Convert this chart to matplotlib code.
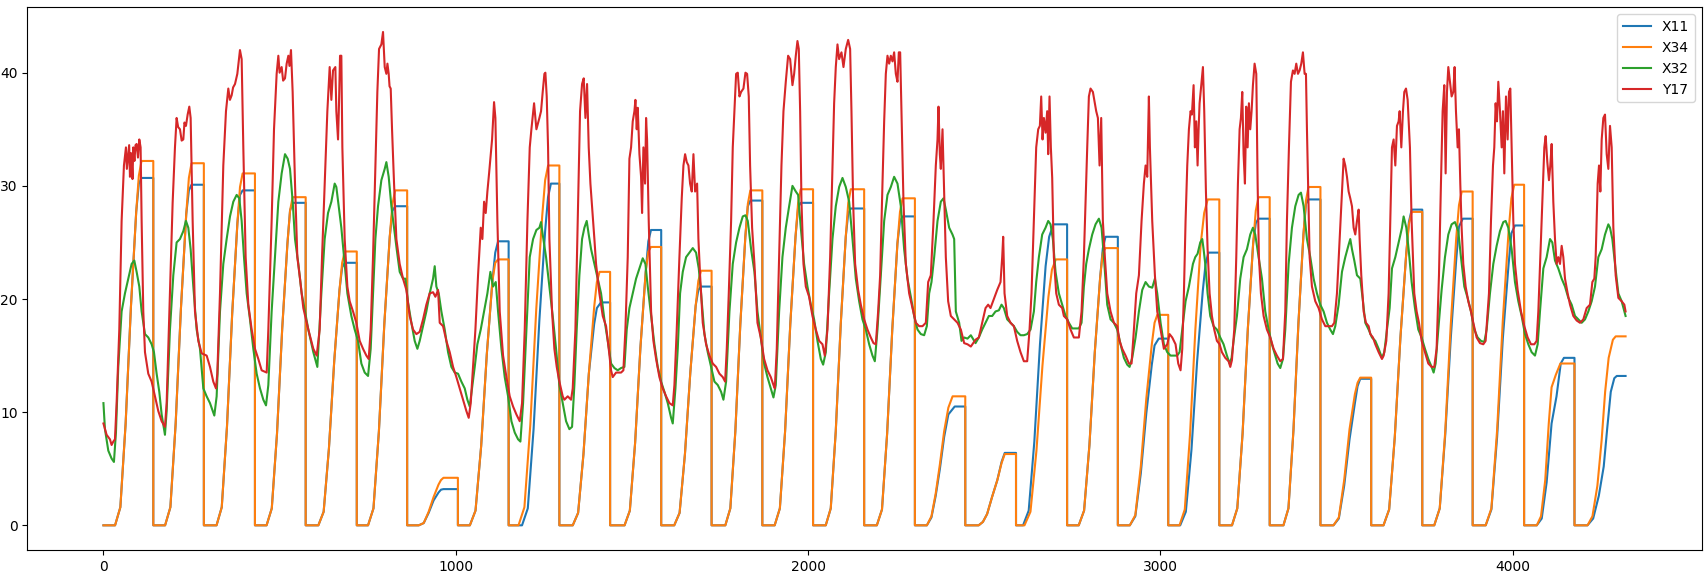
import matplotlib
matplotlib.use("Agg")
import matplotlib.pyplot as plt

# ---------------- data ----------------
x34_x = [0,
 33,48,63,78,93,100.5,108,141.5,141.5,
 175,190,205,220,235,242.5,250,285,285,
 321,335.8,350.6,365.4,380.2,387.6,395,430,430,
 463,477.8,492.6,507.4,522.2,529.6,537,574,574,
 610,625,640,655,670,677.5,685,719,719,
 751,766.4,781.8,797.2,812.6,820.3,828,862,862,
 895,909,923,937,951,958,965,1006,1006,
 1040,1056,1072,1088,1104,1112,1120,1150,1150,
 1178,1194.8,1211.6,1228.4,1245.2,1253.6,1262,1294,1294,
 1332,1347.2,1362.4,1377.6,1392.8,1400.4,1408,1438,1438,
 1479,1494,1509,1524,1539,1546.5,1554,1583,1583,
 1620,1635.2,1650.4,1665.6,1680.8,1688.4,1696,1726,1726,
 1765,1779.2,1793.4,1807.6,1821.8,1828.9,1836,1870,1870,
 1905,1919.8,1934.6,1949.4,1964.2,1971.6,1979,2014,2014,
 2050,2064.2,2078.4,2092.6,2106.8,2113.9,2121,2159,2159,
 2195,2209.6,2224.2,2238.8,2253.4,2260.7,2268,2303,2303,
 2337,2350,2362,2374,2386,2398,2410,2446,2446,
 2484,2496,2508,2522,2537,2549,2558,2590,2590,
 2614,2631,2648,2665,2682,2692,2703,2735,2735,
 2768,2783.2,2798.4,2813.6,2828.8,2836.4,2844,2879,2879,
 2913,2928.6,2944.2,2959.8,2975.4,2983.2,2991,3022,3022,
 3054,3069,3084,3099,3114,3124,3134,3167,3167,
 3203,3218,3233,3248,3263,3270.5,3278,3310,3310,
 3349,3363.2,3377.4,3391.6,3405.8,3412.9,3420,3454,3454,
 3491,3506.2,3521.4,3536.6,3551.8,3559.4,3567,3598,3598,
 3633,3649,3665,3681,3697,3705,3713,3743,3743,
 3777,3792.6,3808.2,3823.8,3839.4,3847.2,3855,3886,3886,
 3923,3939.2,3955.4,3971.6,3987.8,3995.9,4004,4032,4032,
 4068,4080,4092,4102,4110,4122,4135,4175,4175,
 4212,4226,4240,4252,4262,4272,4284,4292,4320]
x34_y = [0,
 0,1.6,9.0,19.3,27.7,30.9,32.2,32.2,0,
 0,1.6,9.0,19.2,27.5,30.7,32.0,32.0,0,
 0,1.6,8.7,18.7,26.7,29.9,31.1,31.1,0,
 0,1.5,8.1,17.4,24.9,27.8,29.0,29.0,0,
 0,1.2,6.8,14.5,20.8,23.2,24.2,24.2,0,
 0,1.5,8.3,17.8,25.5,28.4,29.6,29.6,0,
 0,0.2,1.2,2.5,3.6,4.0,4.2,4.2,0,
 0,1.3,7.0,15.1,21.6,23.2,23.5,23.5,0,
 0,1.6,8.9,19.1,27.3,30.5,31.8,31.8,0,
 0,1.1,6.3,13.4,19.3,21.5,22.4,22.4,0,
 0,1.3,7.3,15.7,22.4,24.2,24.6,24.6,0,
 0,1.1,6.3,13.5,19.4,21.6,22.5,22.5,0,
 0,1.5,8.3,17.8,25.5,28.4,29.6,29.6,0,
 0,1.5,8.3,17.8,25.5,28.5,29.7,29.7,0,
 0,1.5,8.3,17.8,25.5,28.5,29.7,29.7,0,
 0,1.4,8.1,17.3,24.9,27.7,28.9,28.9,0,
 0,0.8,2.8,5.4,8.3,10.4,11.4,11.4,0,
 0,0.3,1.0,2.5,4.0,5.5,6.3,6.3,0,
 0,1.2,6.6,14.1,20.2,22.6,23.5,23.5,0,
 0,1.3,7.1,15.3,21.9,24.1,24.5,24.5,0,
 0,0.9,5.2,11.2,16.0,17.9,18.6,18.6,0,
 0,1.4,8.1,17.3,24.8,27.6,28.8,28.8,0,
 0,1.5,8.1,17.4,24.9,27.8,29.0,29.0,0,
 0,1.5,8.4,17.9,25.7,28.7,29.9,29.9,0,
 0,0.7,4.0,8.5,11.6,12.6,13.05,13.05,0,
 0,1.4,7.8,16.6,23.8,26.6,27.7,27.7,0,
 0,1.5,8.3,17.7,25.4,28.3,29.5,29.5,0,
 0,1.5,8.4,18.1,25.9,28.9,30.1,30.1,0,
 0,0.8,4.0,9.0,12.2,13.3,14.3,14.3,0,
 0,0.8,3.5,7.5,11.8,14.8,16.4,16.7,16.7]

x11_x = [0,
 33,48,63,78,93,100.5,108,141.5,141.5,
 175,190,205,220,235,242.5,250,285,285,
 321,335.8,350.6,365.4,380.2,387.6,395,430,430,
 463,477.8,492.6,507.4,522.2,529.6,537,574,574,
 610,625,640,655,670,677.5,685,719,719,
 751,766.4,781.8,797.2,812.6,820.3,828,862,862,
 895,909,923,937,951,958,965,1006,1006,
 1040,1056,1072,1088,1104,1112,1120,1150,1150,
 1188,1204.4,1220.8,1237.2,1253.6,1261.8,1270,1294,1294,
 1332,1347.2,1362.4,1377.6,1392.8,1400.4,1412,1438,1438,
 1479,1494,1509,1524,1539,1546.5,1554,1583,1583,
 1620,1635.2,1650.4,1665.6,1680.8,1688.4,1696,1726,1726,
 1765,1779.2,1793.4,1807.6,1821.8,1828.9,1836,1870,1870,
 1905,1919.8,1934.6,1949.4,1964.2,1971.6,1979,2014,2014,
 2050,2064.2,2078.4,2092.6,2106.8,2113.9,2121,2159,2159,
 2195,2209.6,2224.2,2238.8,2253.4,2260.7,2268,2303,2303,
 2337,2350,2362,2374,2386,2398,2416,2446,2446,
 2484,2496,2508,2522,2537,2549,2558,2590,2590,
 2610,2626,2642,2658,2674,2684,2696,2735,2735,
 2768,2783.2,2798.4,2813.6,2828.8,2836.4,2844,2879,2879,
 2913,2928.6,2944.2,2959.8,2975.4,2983.2,2995,3022,3022,
 3056,3072,3088,3104,3120,3128,3136,3167,3167,
 3203,3218,3233,3248,3263,3270.5,3278,3310,3310,
 3349,3363.2,3377.4,3391.6,3405.8,3412.9,3420,3454,3454,
 3491,3506.2,3521.4,3536.6,3551.8,3559.4,3567,3598,3598,
 3633,3649,3665,3681,3697,3705,3713,3743,3743,
 3777,3792.6,3808.2,3823.8,3839.4,3847.2,3858,3886,3886,
 3923,3939.2,3955.4,3971.6,3987.8,3995.9,4006,4032,4032,
 4068,4082,4096,4110,4124,4136,4145,4175,4175,
 4212,4228,4244,4258,4268,4278,4288,4295,4320]
x11_y = [0,
 0,1.6,9.0,19.3,27.7,30.2,30.7,30.7,0,
 0,1.6,9.0,19.2,27.5,29.6,30.1,30.1,0,
 0,1.6,8.7,18.7,26.7,29.2,29.6,29.6,0,
 0,1.5,8.1,17.4,24.9,27.8,28.5,28.5,0,
 0,1.2,6.8,14.5,20.8,22.8,23.2,23.2,0,
 0,1.5,8.3,17.8,25.5,27.8,28.2,28.2,0,
 0,0.2,1.1,2.2,2.9,3.15,3.2,3.2,0,
 0,1.3,7.0,15.1,21.6,24.1,25.1,25.1,0,
 0,1.5,8.5,18.1,26.0,29.0,30.2,30.2,0,
 0,1.1,6.3,13.4,17.8,19.2,19.7,19.7,0,
 0,1.3,7.3,15.7,22.4,25.1,26.1,26.1,0,
 0,1.1,6.3,13.5,19.4,20.8,21.1,21.1,0,
 0,1.5,8.3,17.8,25.5,28.2,28.7,28.7,0,
 0,1.5,8.3,17.8,25.5,28.1,28.5,28.5,0,
 0,1.5,8.3,17.8,25.5,27.6,28.0,28.0,0,
 0,1.4,8.1,17.3,24.9,26.9,27.3,27.3,0,
 0,0.7,2.6,5.0,7.8,9.8,10.5,10.5,0,
 0,0.3,1.0,2.5,4.0,5.6,6.4,6.4,0,
 0,1.3,7.4,16.0,22.9,25.5,26.6,26.6,0,
 0,1.3,7.1,15.3,21.9,24.5,25.5,25.5,0,
 0,0.8,4.6,9.9,14.2,15.9,16.5,16.5,0,
 0,1.2,6.7,14.5,20.7,23.1,24.1,24.1,0,
 0,1.5,8.1,17.4,24.9,26.7,27.1,27.1,0,
 0,1.5,8.4,17.9,25.7,28.4,28.8,28.8,0,
 0,0.6,3.5,7.6,10.8,12.3,12.95,12.95,0,
 0,1.4,7.8,16.6,23.8,26.8,27.9,27.9,0,
 0,1.5,8.0,16.5,23.5,26.4,27.1,27.1,0,
 0,1.4,7.8,16.5,23.0,25.8,26.5,26.5,0,
 0,0.6,3.8,9.0,11.4,14.3,14.8,14.8,0,
 0,0.6,2.6,5.2,8.6,11.8,13.0,13.2,13.2]

x32_x = [0,4.3,13.8,23.2,29.8,35.5,42.1,51.6,61.1,70.5,80,87.6,94.2,101.8,108.4,117.9,127.3,136.8,
 143.4,151,158.5,165.2,174.6,179.4,188.8,198.3,207.7,217.2,226.7,234.2,240.9,247.5,255.1,264.5,274,
 283.5,292.9,302.4,314.7,321.3,330.8,340.2,349.7,359.2,368.6,378.1,385.6,392.3,398.9,406.5,415.9,
 425.4,434.9,444.3,453.8,461.4,468,477.4,486.9,496.4,505.8,515.3,522.9,529.5,537.1,543.7,553.2,
 562.6,572.1,581.5,595.7,607.1,
 618.5,627.9,637.4,646.9,656.3,661,667.7,675.2,682.8,692.3,703.6,713.1,722.6,732,741.5,751,758.5,
 765.1,771.8,779.3,788.8,798.3,803,809.6,817.2,824.8,832.3,840.8,850.3,856.9,864.5,874,883.4,891,
 897.6,907.1,916.5,926,935.5,940.2,944.9,951.6,959.1,968.6,978.1,987.5,997,1006.4,1015.9,1025.4,
 1032.9,1039.6,1046.2,1053.8,1061.3,1070.8,1080.3,1089.7,1098.2,1105.8,1113.4,1120,1129.5,1138.9,
 1148.4,1157.9,1167.3,1176.8,1183.4,1191,1200.4,1209.9,1219.4,1228.8,
 1237.3,1242,1246.7,1256.2,1265.7,1275.1,1284.6,1294,1303.5,1313,1322.4,1330,1336.6,1343.2,1350.8,
 1358.4,1365,1371.6,1377.3,1384,1393.4,1402.9,1412.3,1421.8,1431.3,1440.7,1450.2,1459.6,1469.1,
 1478.6,1485.2,1492.8,1502.2,1511.7,1521.2,1530.6,1538.2,1544.8,1554.3,1563.7,1573.2,1582.7,1592.1,
 1601.6,1611.1,1615.8,1623.4,1630,1636.6,1644.2,1653.6,1663.1,1672.6,1682,1689.6,1696.2,1705.7,
 1715.1,1724.6,1734.1,1743.5,1753,1759.6,1767.2,1776.7,1786.1,1795.6,1805.1,1814.5,1822.1,1828.7,
 1838.2,1847.6,
 1856.2,1865.6,1875.1,1884.6,1894,1901.6,1908.2,1917.7,1927.1,1936.6,1946.1,1955.5,1965,1971.6,
 1979.2,1988.6,1998.1,2007.6,2017,2026.5,2036,2042.6,2050.2,2059.6,2069.1,2078.5,2088,2097.5,
 2106.9,2116.4,2125.9,2135.3,2144.8,2154.2,2163.7,2173.2,2182.6,2189.3,2196.8,2206.3,2215.8,
 2225.2,2234.7,2244.1,2253.6,2263.1,2272.5,2282,2291.5,2300.9,2310.4,2319.9,2329.3,2336.9,2343.5,
 2350.1,2357.7,2367.2,2376.6,2384.2,2390.8,2400.3,2409.7,2414.5,2419.2,2428.7,2435.3,2442.9,
 2452.3,2461.8,
 2475.1,2484.5,2494,2503.5,2512.9,2522.4,2531.8,2541.3,2548.9,2555.5,2565,2574.4,2583.9,2593.3,
 2602.8,2612.3,2621.7,2631.2,2640.7,2647.3,2654.9,2664.3,2673.8,2681.4,2688,2694.6,2702.2,2711.6,
 2721.1,2730.6,2740,2749.5,2768.4,2776,2782.6,2789.2,2796.8,2806.3,2815.7,2825.2,2832.8,2839.4,
 2848.9,2858.3,2867.8,2877.2,2886.7,2896.2,2905.6,2912.3,2919.8,2929.3,2938.8,2948.2,2957.7,
 2967.1,2976.6,2984.2,2990.8,3000.3,3009.7,3019.2,3028.6,3047.5,3054.2,3061.8,3071.2,3080.7,
 3092.1,3098.7,3105.3,3112.9,3118.6,3122.4,3127.1,3133.7,3141.3,3150.7,3160.2,3169.7,3179.1,
 3188.6,3196.2,3201.8,3207.5,3217,3226.4,3235.9,3245.4,3254.8,3262.4,3269,3278.5,3288,3297.4,
 3306.9,3316.3,3325.8,3332.4,3340,3347.6,3354.2,3363.7,3373.1,3382.6,3392,3398.7,3406.2,3415.7,
 3425.2,3434.6,3444.1,3453.6,3463,3472.5,3481.9,3489.5,3496.1,3505.6,3515.1,3524.5,3534,3538.7,
 3543.5,3550.1,3557.7,3567.1,3574.7,3581.3,3590.8,3600.2,3609.7,3619.2,3628.6,3635.2,3642.8,
 3650.4,3657,3666.5,3675.9,3685.4,3690.1,3697.7,3704.3,
 3712.8,3722.2,3731.7,3741.2,3750.6,3760.1,3769.5,3775.2,3780.9,3788.5,3797.9,3807.4,3816.9,
 3826.3,3835.8,3845.2,3852.8,3862.3,3871.7,3881.2,3890.7,3900.1,3909.6,3919.1,3925.7,3935.1,
 3944.6,3954.1,3963.5,3973,3979.6,3987.2,3996.7,4006.1,4015.6,4025,4034.5,4044,4053.4,4062.9,
 4070.5,4077.1,4086.6,4096,4105.5,4112.1,4119.7,4129.1,4138.6,4148.1,4157.5,4167,4176.5,4185.9,
 4195.4,4204.9,4214.3,4223.8,4233.2,4242.7,4252.2,4261.6,4271.1,4275.8,4282.4,4290,4299.5,4308.9,
 4316.5,4320]
x32_y = [10.8,8.5,6.6,5.9,5.6,8.2,14.0,18.9,20.5,21.8,23.1,23.4,22.4,21.1,18.9,16.9,16.6,16.0,
 15.3,13.4,11.8,9.8,8.0,10.1,17.3,22.1,25.0,25.3,26.0,26.9,26.3,24.4,21.1,17.3,15.6,
 12.1,11.4,10.8,9.7,11.4,18.9,23.1,25.3,27.3,28.6,29.2,28.9,26.9,23.7,20.5,18.2,
 15.6,13.4,12.1,11.1,10.6,12.4,18.9,23.7,28.6,31.1,32.8,32.4,31.5,28.6,25.3,23.1,
 20.5,18.9,17.3,15.3,14.0,
 20.5,25.3,27.6,28.6,30.2,29.9,28.2,26.3,23.7,20.5,18.5,17.3,16.3,14.3,13.5,13.2,15.6,
 20.5,25.3,28.2,30.5,31.5,32.1,30.8,28.2,26.3,24.4,22.4,21.8,21.8,19.7,17.9,16.3,15.6,
 16.3,17.6,18.9,20.5,21.8,22.9,21.1,20.5,18.9,17.3,15.3,14.0,13.5,13.4,12.7,12.1,
 11.1,10.5,12.1,14.0,16.0,17.3,18.9,20.5,22.4,21.1,21.5,18.9,15.6,13.1,
 11.4,9.2,8.2,7.6,7.4,10.8,17.3,23.7,25.3,26.1,
 26.3,26.8,25.7,23.7,21.1,18.5,15.6,12.4,10.8,9.2,8.5,8.7,12.4,17.3,22.1,
 25.3,26.3,26.9,25.7,24.4,23.1,21.8,20.5,18.2,16.3,14.3,13.9,13.7,13.9,
 14.0,17.3,19.2,20.5,21.8,22.7,23.6,23.1,21.1,18.5,16.0,14.0,12.7,11.8,
 10.8,9.5,9.0,12.1,15.6,20.5,22.4,23.7,24.1,24.5,24.1,22.7,20.5,16.9,
 15.3,14.0,12.7,12.4,11.8,11.1,12.7,18.9,23.1,25.0,26.3,27.3,27.4,26.9,
 24.4,22.4,
 18.9,16.6,14.3,13.1,12.1,11.3,12.4,18.9,23.7,26.3,28.2,30.0,29.5,29.2,
 26.3,23.1,21.1,19.5,18.2,16.3,14.7,14.2,15.3,20.5,25.3,28.2,29.9,30.7,
 29.9,28.6,25.3,21.8,19.8,18.2,17.3,16.0,15.0,14.5,17.3,22.1,26.9,
 29.2,29.9,30.8,30.2,28.2,24.4,21.8,20.2,18.5,17.3,16.9,16.8,17.6,20.5,
 21.5,23.7,26.9,28.6,28.9,27.9,26.3,25.7,25.3,18.9,17.9,16.3,16.6,
 16.5,16.8,
 16.1,16.6,17.3,17.9,18.5,18.5,18.9,19.0,19.5,19.2,18.2,17.9,17.6,17.1,
 16.8,16.8,16.9,17.3,18.9,21.5,23.7,25.7,26.3,26.9,26.6,25.3,22.4,20.5,
 19.5,18.5,17.9,17.4,17.4,17.9,21.1,23.1,24.4,25.7,26.6,27.1,26.3,23.7,
 19.5,18.2,17.9,17.3,16.0,14.8,14.2,14.0,14.8,16.6,18.9,20.8,21.5,
 21.1,21.0,21.8,20.5,17.9,16.0,15.3,15.0,15.0,15.3,17.3,19.8,21.1,
 23.1,23.7,24.0,25.0,25.3,24.4,23.1,20.5,18.5,17.6,17.3,16.6,16.0,
 15.0,14.3,14.8,16.3,18.5,21.8,23.7,24.4,25.7,26.3,25.7,23.7,21.8,18.9,
 17.3,16.0,15.0,14.3,13.9,14.7,17.3,23.1,26.3,28.2,29.2,29.4,28.2,25.3,
 23.7,21.8,20.5,19.5,18.9,17.9,17.3,16.9,17.6,19.5,22.4,23.7,24.8,25.3,
 24.4,23.4,22.1,21.8,19.8,17.9,17.3,16.6,16.3,15.6,14.8,15.3,17.3,
 19.2,22.7,23.7,25.0,26.3,27.3,26.3,24.4,
 21.5,19.2,17.3,16.6,15.6,14.7,14.0,13.5,14.3,17.3,20.8,23.7,25.7,
 26.6,26.8,26.0,23.7,21.1,20.1,18.9,17.3,16.6,16.3,16.2,17.3,20.5,
 23.1,24.7,26.0,26.8,26.9,26.3,24.4,21.5,19.8,18.5,16.9,16.0,15.3,15.0,
 16.0,18.9,22.7,23.7,25.3,25.0,23.4,22.7,21.8,21.1,20.1,19.5,18.5,18.2,
 17.9,18.2,18.9,19.8,21.1,23.7,24.4,25.7,26.6,26.3,25.3,23.1,20.5,19.8,
 18.9,18.5]

y17_x = [0,9,18.5,23.2,28,32.7,37.4,45,51.6,58.2,63.9,66.5,70.5,73,75.3,78,80,82.5,84.7,88,91,94.2,98,
 101.8,105.5,108.4,113.1,117.9,127.3,136.8,146.2,155.7,165.2,174.6,179.4,188.8,196.4,203,207.7,
 212,217.2,222,226.7,230,234.2,239,243.7,247.5,253.2,259.8,269.3,278.7,293,302.4,311.8,319.4,
 323.2,330.8,340.2,347.8,354.4,359,363.9,368,373.4,380,387.5,392.3,397,403.6,411.2,420.7,430.1,
 439.6,449,463.3,468,477.4,484.1,491.6,496.4,500,505.8,510,515.3,520,524.8,528,532.3,537,543.7,
 550.3,557.9,567.3,581.5,595.7,605.2,
 613.7,620.4,627.9,635.5,642.1,646.9,651.6,658.2,661,665.8,668.6,671.5,675.2,678.1,684.7,692.3,
 698.9,708.4,717.8,727.3,736.8,746.2,752.8,758.5,765.1,771.8,777.4,782.2,788.8,793.5,798.3,803,
 806,809.6,812,815.3,819.1,824.8,831.4,840.8,850.3,859.8,869.2,878.7,888.2,897.6,907.1,916.5,926,
 935.5,942.1,949.7,954.4,963.9,973.3,982.8,992.3,1001.7,1011.2,1020.6,1030.1,1036.7,1042.4,1049,
 1055.7,1063.2,1070.8,1075.5,1080.3,1085,1089.7,1094.5,1099.2,1103,1108.6,1112.4,1118.1,1124.7,
 1134.2,1143.7,1153.1,1162.6,1172,1181.5,1188.1,1195.7,1203.3,1209.9,1214.6,1222.2,1228.8,
 1237.3,1242,1246.7,1251.5,1254.3,1258.1,1261.9,1265.7,1273.2,1279.8,1286.5,1294,1303.5,1308.2,
 1317.7,1327.2,1331.9,1339.5,1346.1,1352.7,1358.4,1363.1,1367.9,1372.6,1377.3,1382.1,1386.8,
 1393.4,1398.1,1407.6,1417.1,1426.5,1434.1,1440.7,1445.4,1454.9,1469.1,1475.7,1481.4,1488,1492.8,
 1497.5,1502.2,1507,1509.8,1513.6,1516.4,1521.2,1525.9,1528.7,1532.5,1537.2,1540.1,1542.9,1547.6,
 1554.3,1560.9,1568.5,1577.9,1587.4,1596.9,1606.3,1615.8,1620.5,1627.1,1634.7,1641.3,1646.1,
 1650.8,1655.5,1660.3,1665,1669.7,1674.5,1679.2,1684.9,1688.6,1693.4,1700.9,1710.4,1719.9,1729.3,
 1738.8,1748.3,1757.7,1764.4,1769.1,1774.8,1781.4,1786.1,1790.9,1795.6,1800.3,1805.1,1809.8,
 1816.4,1822.1,1826.8,1831.5,1835.3,1841,1847.6,
 1856.2,1865.6,1875.1,1884.6,1894,1901.6,1905.4,1911,1917.7,1924.3,1930,1936.6,1943.2,1948.9,
 1955.5,1960.3,1965,1969.7,1973.5,1977.3,1981.1,1986.8,1993.4,2002.8,2012.3,2021.8,2031.2,2040.7,
 2047.3,2054.9,2062.5,2069.1,2073.8,2078.5,2083.3,2088,2094.6,2100.3,2106.9,2113.6,2119.2,2123,
 2127.7,2133.4,2141.9,2149.5,2159,2168.4,2177.9,2185.5,2192.1,2198.7,2204.4,2211,2215.8,2220.5,
 2225.2,2230,2234.7,2239.4,2244.1,2248.9,2253.6,2257.4,2261.2,2265,2270.6,2277.3,2286.7,2296.2,
 2305.7,2315.1,2324.6,2334.1,2340.7,2348.2,2355.8,2362.4,2367.2,2370,2373.8,2376.6,2381.4,2386.1,
 2390.8,2397.4,2405,2414.5,2423.9,2433.4,2442.9,2452.3,2461.8,
 2475.1,2484.5,2494,2503.5,2511,2517.6,2527.1,2536.6,2546,2550.8,2553.6,2557.4,2565,2574.4,
 2583.9,2593.3,2602.8,2612.3,2621.7,2628.4,2634,2640.7,2647.3,2653,2657.7,2661.5,2665.3,2669.1,
 2673.8,2678.5,2681.4,2685.1,2688.9,2692.7,2697.4,2704.1,2711.6,2721.1,2725.8,2735.3,2744.8,
 2754.2,2768.4,2776,2782.6,2787.3,2792.1,2796.8,2801.5,2808.2,2813.8,2817.6,2822.4,2827.1,2831.8,
 2836.5,2842.2,2848.9,2858.3,2867.8,2877.2,2883.9,2891.4,2900.9,2910.4,2917.9,2924.6,2931.2,
 2938.8,2946.3,2952.9,2957.7,2962.4,2967.1,2970,2976.6,2984.2,2990.8,3000.3,3009.7,3019.2,3025.8,
 3033.4,3042.8,3050.4,3057,3061.8,3066.5,3071.2,3076,3080.7,3085.4,
 3089.2,3094,3097.7,3101.5,3105.3,3108.2,3111,3115.7,3120.5,3124.2,3129,3133.7,3139.4,3146,
 3152.6,3160.2,3167.8,3174.4,3183.9,3193.3,3198.1,3202.8,3209.4,3215.1,3219.8,3224.6,3228.3,
 3232.1,3235.9,3239.7,3243.5,3247.3,3251,3254.8,3258.6,3262.4,3267.1,3271.9,3275.7,3279.4,3285.1,
 3292.7,3302.1,3311.6,3321.1,3330.5,3340,3347.6,3354.2,3358.9,3364.6,3370.3,3375.9,3380.7,3385.4,
 3390.2,3394.9,3399.6,3404.3,3409.1,3412.9,3415.7,3418.5,3423.3,3429.9,3439.4,3448.8,3458.3,
 3467.8,3486.7,3493.3,3500.9,3508.4,3515.1,3519.8,3524.5,3529.3,3534,3538.7,3543.5,3548.2,3552.9,
 3557.7,3562.4,3565.2,3569.9,3576.6,3583.2,3590.8,3595.5,3603.1,3609.7,3619.2,3628.6,3633.4,
 3640.9,3647.5,3652.3,3657,3661.7,3666.5,3671.2,3675.9,3678.8,3683.5,3688.2,3692,3696.8,3701.5,
 3708,3712.8,3720.3,3727,3733.6,3741.2,3750.6,3760.1,3769.5,3777.1,3783.7,3790.4,3796,3800.8,
 3805.5,3809.3,3813.1,3816.9,3821.6,3826.3,3831.1,3834.8,3838.6,3843.4,3847.1,3850.9,3854.7,
 3859.4,3866.1,3873.6,3881.2,3887.8,3897.3,3906.8,3916.2,3922.8,3928.5,3932.3,3938,3943.7,3947.4,
 3951.2,3955,3958.8,3963.5,3968.3,3972,3975.8,3980.6,3985.3,3989.1,3992.9,3996.7,4001.4,4006.1,
 4013.7,4023.2,4032.6,4042.1,4051.5,4061,4067.6,4072.4,4078,4083.7,4089.4,4093.2,4097.9,4102.6,
 4106.4,4110.2,4114.9,4119.7,4124.4,4129.1,4133.9,4138.6,4143.3,4148.1,4155.6,4162.3,4171.7,
 4181.2,4190.6,4200.1,4209.6,4219,4225.7,4231.3,4235.1,4240.8,4244.6,4248.4,4252.2,4256.9,4261.6,
 4266.4,4271.1,4275.8,4280.6,4285.3,4291.9,4299.5,4308.9,4316.5,4320]
y17_y = [9.0,8.0,7.6,7.1,7.4,7.6,10.8,17.3,26.9,31.8,33.4,31.5,32.8,33.6,30.8,32.9,32.4,30.6,33.4,32.2,33.6,33.7,32.5,
 34.1,33.4,26.9,18.9,15.3,13.4,12.7,11.4,10.1,9.2,8.7,10.8,20.5,28.5,33.4,36.0,
 35.2,35.0,34.0,34.1,35.6,35.3,36.3,37.0,36.0,26.9,18.9,16.3,15.2,15.0,14.0,12.7,12.1,
 13.4,20.5,31.8,36.6,38.6,37.6,38.0,38.7,39.0,39.9,42.0,41.2,33.4,23.7,19.5,17.3,15.6,
 14.7,13.7,13.5,17.3,26.9,35.0,39.9,41.5,40.0,40.5,39.3,39.5,40.8,41.5,40.6,42.0,38.3,30.2,
 23.7,21.8,19.2,17.3,15.6,15.0,
 17.3,23.7,30.2,36.6,40.5,37.6,40.2,40.5,36.6,34.1,37.3,41.5,41.5,33.4,25.3,21.1,
 19.8,18.9,17.9,16.3,15.6,15.0,14.7,17.3,23.7,31.8,38.3,42.1,42.5,43.6,40.5,39.9,
 40.8,39.9,38.8,38.6,35.0,30.2,25.3,23.1,21.8,20.8,18.5,17.3,16.9,17.1,18.2,19.5,20.5,
 20.6,20.2,20.8,17.9,17.6,16.3,15.3,14.0,13.1,12.1,11.1,10.1,9.5,10.8,14.0,
 17.3,22.1,26.3,25.3,28.6,27.6,29.5,31.1,32.8,34.1,37.4,36.0,26.9,18.9,
 15.0,13.1,11.4,10.5,9.8,9.2,10.8,17.3,26.9,33.4,35.0,37.3,35.0,
 36.0,36.6,38.3,39.9,40.0,37.9,33.4,25.3,18.9,15.6,14.0,12.7,11.4,11.1,
 11.4,11.1,12.1,17.3,26.9,36.6,39.0,39.5,36.0,39.0,33.4,30.2,28.2,
 25.3,23.1,20.5,18.5,17.6,15.6,13.7,13.1,13.5,13.5,13.7,17.3,23.7,32.4,
 33.4,35.7,36.6,37.6,35.0,36.9,32.8,30.8,27.6,33.4,30.2,36.0,34.1,26.9,
 18.9,16.3,14.7,13.1,12.1,11.4,10.8,10.6,12.4,17.3,23.7,28.9,31.8,
 32.8,32.1,31.8,30.2,29.5,32.8,29.5,30.2,25.3,22.1,17.9,16.0,15.0,14.3,
 14.0,13.4,13.1,12.7,15.6,20.5,26.9,33.4,36.6,39.9,40.0,37.9,38.3,
 38.6,40.0,39.9,37.9,31.8,26.3,23.1,
 17.9,16.6,14.7,13.7,13.1,12.4,12.1,15.6,23.7,31.8,36.6,39.2,41.5,41.2,
 38.9,39.9,41.5,42.8,42.1,36.6,28.6,23.1,21.1,20.2,18.5,17.3,16.3,16.0,
 15.0,17.3,23.7,31.8,37.3,40.5,42.5,41.2,41.8,40.5,42.1,42.9,42.1,36.6,
 28.6,23.1,20.8,19.5,18.2,17.3,16.6,16.1,16.0,18.9,22.1,30.2,35.7,39.9,
 41.5,40.8,41.5,41.0,41.8,39.9,39.2,41.8,41.8,36.6,28.6,23.1,20.5,19.2,
 17.9,17.6,17.6,17.9,21.5,22.1,26.9,31.8,34.1,37.0,32.8,31.5,35.0,29.5,
 23.7,19.8,18.5,18.2,17.9,17.3,16.1,16.0,15.8,
 16.4,16.6,17.9,19.2,19.5,19.2,20.0,20.8,21.5,23.7,25.5,20.5,18.5,17.9,
 17.6,16.3,15.3,14.5,14.5,17.3,20.5,26.9,33.4,35.0,35.3,37.9,34.1,36.0,
 34.7,36.6,32.8,37.9,33.4,30.7,23.7,20.5,19.5,19.2,18.5,18.2,17.3,
 16.6,16.6,18.9,23.7,28.6,33.4,37.9,38.6,38.3,37.3,36.6,36.0,31.8,36.0,
 26.9,23.7,20.5,18.9,17.9,17.6,16.3,15.6,15.0,14.3,14.3,17.3,20.5,
 22.1,26.9,30.2,31.8,30.8,37.9,33.4,26.9,22.1,18.9,17.3,15.6,16.0,16.9,
 16.6,16.0,14.3,13.7,15.6,20.5,26.9,31.8,35.0,36.6,
 36.3,38.9,33.4,35.7,31.8,35.0,37.3,38.9,40.5,36.6,29.5,24.4,20.5,18.5,
 17.3,16.3,16.0,15.3,14.8,14.5,14.0,14.6,17.3,23.7,30.2,35.0,36.0,
 38.3,32.8,30.2,37.0,33.4,37.3,35.0,36.6,38.9,40.8,39.9,30.2,23.7,20.5,
 18.5,17.3,16.6,15.6,15.0,14.5,14.7,18.9,26.9,33.4,39.2,40.2,39.9,40.8,
 39.9,40.2,40.8,41.8,39.9,39.9,35.0,30.7,23.7,21.1,19.8,19.2,18.2,
 17.6,17.6,17.9,20.5,25.3,29.5,32.4,31.8,30.8,29.5,28.9,28.2,26.3,25.7,
 26.9,27.9,25.3,22.1,18.9,17.9,17.6,16.9,16.6,16.0,15.3,14.7,15.0,
 16.3,20.5,26.9,33.4,34.1,31.8,35.3,35.7,36.6,33.4,36.6,38.3,38.6,37.6,
 33.4,26.9,20.5,18.9,17.9,16.3,15.3,14.3,14.0,14.0,15.6,22.1,30.2,36.6,
 38.9,31.1,38.3,40.5,39.2,37.9,38.3,40.5,36.6,33.4,35.0,30.2,26.3,
 23.1,21.1,19.8,18.9,17.9,16.6,16.1,16.0,16.3,18.9,20.5,26.9,31.8,33.4,
 37.3,35.7,39.2,36.6,33.4,36.6,31.1,37.9,34.1,38.3,38.6,33.4,26.9,23.1,
 20.8,18.9,17.6,16.6,16.0,16.0,16.3,18.9,23.7,28.6,33.4,34.4,32.1,30.5,
 31.8,33.7,28.6,25.3,23.1,23.7,23.1,24.7,23.7,21.8,20.5,19.5,18.5,
 18.1,17.9,18.2,19.2,19.5,21.5,21.8,23.7,30.2,31.8,29.5,34.1,36.0,36.3,
 32.8,31.5,35.3,33.4,26.3,22.1,20.1,19.8,19.5,18.9]

series_names = ["X11", "X34", "X32", "Y17"]

# ---------------- drawing ----------------
fig = plt.figure(figsize=(17.08, 5.75), dpi=100)
ax = fig.add_axes([0.016, 0.0435, 0.9803, 0.9438])

ax.plot(x11_x, x11_y, label=series_names[0])
ax.plot(x34_x, x34_y, label=series_names[1])
ax.plot(x32_x, x32_y, label=series_names[2])
ax.plot(y17_x, y17_y, label=series_names[3])

ax.set_xlim(-216, 4536)
ax.set_ylim(-2.18, 45.78)
ax.set_xticks([0, 1000, 2000, 3000, 4000])
ax.set_yticks([0, 10, 20, 30, 40])
ax.legend(loc="upper right")

fig.savefig("out.png", dpi=100)
